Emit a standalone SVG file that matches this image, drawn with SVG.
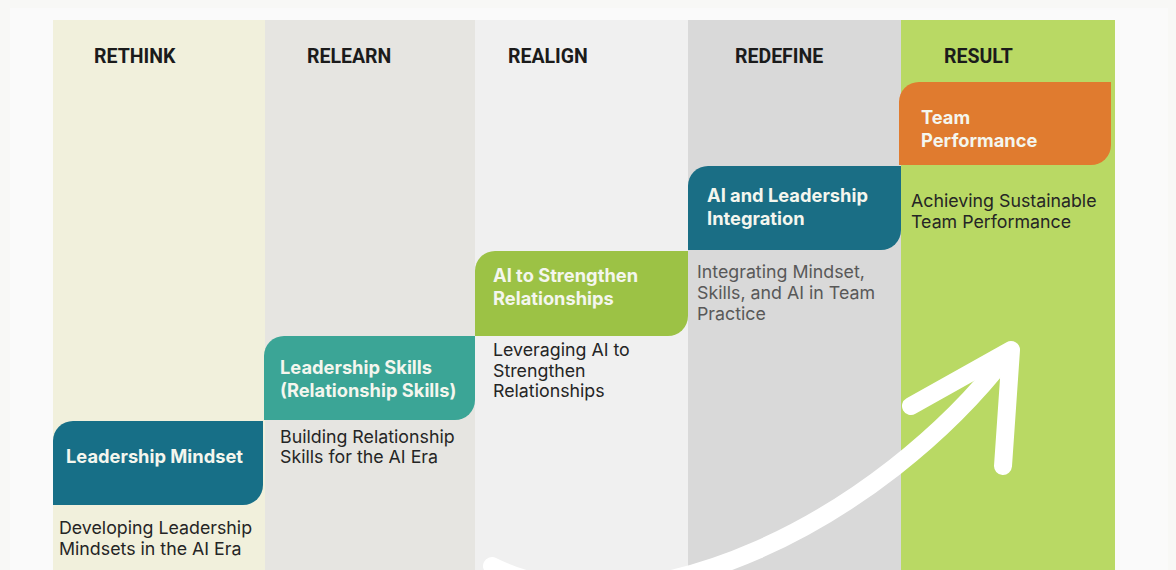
<svg xmlns="http://www.w3.org/2000/svg" width="1176" height="570" viewBox="0 0 1176 570">
  <style>
    .hdr { font-family: Roboto, "Liberation Sans", sans-serif; font-weight: 700; font-size: 19.5px; fill: #1b1b1b; }
    .ttl { font-family: Inter, Roboto, "Liberation Sans", sans-serif; font-weight: 650; font-size: 18.3px; fill: #f4f6ee; }
    .dsc { font-family: Inter, Roboto, "Liberation Sans", sans-serif; font-weight: 400; font-size: 17.8px; fill: #252525; }
    .dsc2 { fill: #585858; }
  </style>
  <rect width="1176" height="570" fill="#f8f8f6"/>
  <rect x="10" y="8" width="1158" height="562" fill="#fafafa"/>
  <g id="columns">
    <rect x="53" y="20" width="212" height="550" fill="#f1f0dc"/>
    <rect x="265" y="20" width="210" height="550" fill="#e6e5e1"/>
    <rect x="475" y="20" width="213" height="550" fill="#f0f0f0"/>
    <rect x="688" y="20" width="213" height="550" fill="#d9d9d9"/>
    <rect x="901" y="20" width="214" height="550" fill="#b9d964"/>
  </g>
  <g id="headers">
    <text class="hdr" x="94" y="63">RETHINK</text>
    <text class="hdr" x="307" y="63">RELEARN</text>
    <text class="hdr" x="508" y="63">REALIGN</text>
    <text class="hdr" x="735" y="63">REDEFINE</text>
    <text class="hdr" x="944" y="63">RESULT</text>
  </g>
  <g id="node-mindset">
    <path d="M73 421 H263 V485 A20 20 0 0 1 243 505 H53 V441 A20 20 0 0 1 73 421 Z" fill="#176f87"/>
    <text class="ttl" x="66" y="463">Leadership Mindset</text>
    <text class="dsc" x="59" y="534">Developing Leadership</text>
    <text class="dsc" x="59" y="555">Mindsets in the AI Era</text>
  </g>
  <g id="node-skills">
    <path d="M284 336 H475 V400 A20 20 0 0 1 455 420 H264 V356 A20 20 0 0 1 284 336 Z" fill="#3ba596"/>
    <text class="ttl" x="280" y="374">Leadership Skills</text>
    <text class="ttl" x="280" y="397">(Relationship Skills)</text>
    <text class="dsc" x="280" y="443">Building Relationship</text>
    <text class="dsc" x="280" y="463">Skills for the AI Era</text>
  </g>
  <g id="node-ai-relationships">
    <path d="M495 251 H688 V316 A20 20 0 0 1 668 336 H475 V271 A20 20 0 0 1 495 251 Z" fill="#9cc245"/>
    <text class="ttl" x="493" y="282">AI to Strengthen</text>
    <text class="ttl" x="493" y="305">Relationships</text>
    <text class="dsc" x="493" y="356">Leveraging AI to</text>
    <text class="dsc" x="493" y="377">Strengthen</text>
    <text class="dsc" x="493" y="397">Relationships</text>
  </g>
  <g id="node-integration">
    <path d="M708 166 H901 V230 A20 20 0 0 1 881 250 H688 V186 A20 20 0 0 1 708 166 Z" fill="#1a6e85"/>
    <text class="ttl" x="707" y="202">AI and Leadership</text>
    <text class="ttl" x="707" y="225">Integration</text>
    <text class="dsc dsc2" x="697" y="278">Integrating Mindset,</text>
    <text class="dsc dsc2" x="697" y="299">Skills, and AI in Team</text>
    <text class="dsc dsc2" x="697" y="320">Practice</text>
  </g>
  <g id="node-performance">
    <path d="M919 82 H1111 V145 A20 20 0 0 1 1091 165 H899 V102 A20 20 0 0 1 919 82 Z" fill="#e07b2f"/>
    <text class="ttl" x="921" y="124">Team</text>
    <text class="ttl" x="921" y="147">Performance</text>
    <text class="dsc" x="911" y="207">Achieving Sustainable</text>
    <text class="dsc" x="911" y="228">Team Performance</text>
  </g>
  <g id="connectors" fill="none" stroke="#ffffff" stroke-width="18" stroke-linecap="round" stroke-linejoin="round">
    <path d="M492 566 C640 640 880 520 1008 354"/>
    <path d="M911 406 L1011 350 L1003 466"/>
  </g>
</svg>
